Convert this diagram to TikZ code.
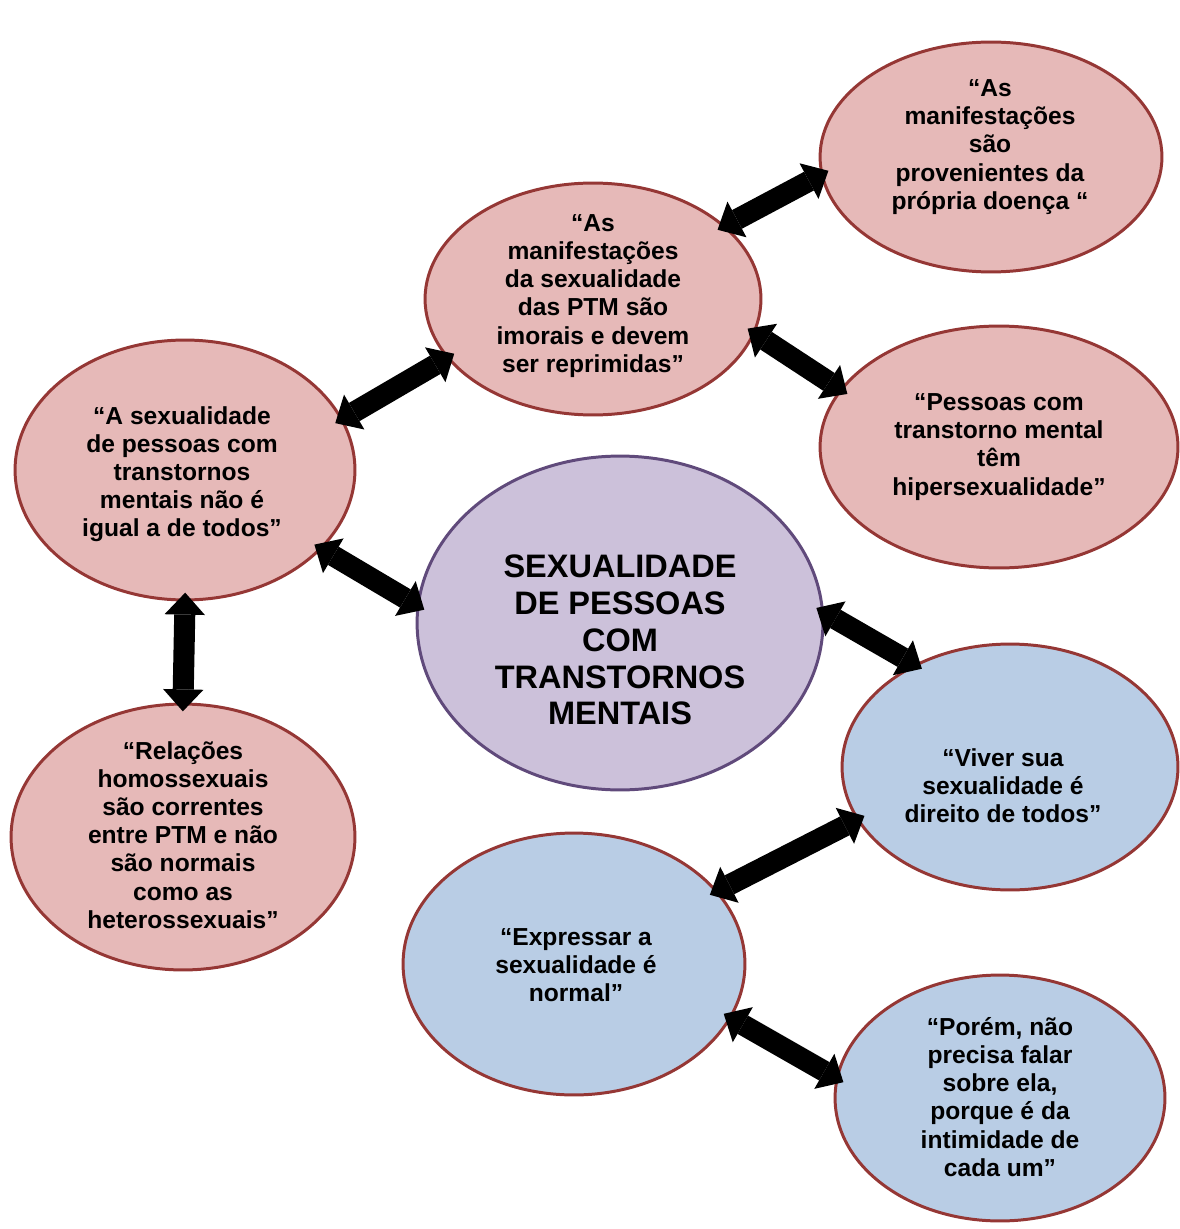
\documentclass[tikz,border=0pt]{standalone}
\usepackage{fontspec}
\setmainfont{Liberation Sans}
\usetikzlibrary{arrows.meta,shapes.geometric}
\definecolor{pinkfill}{HTML}{E6B9B8}
\definecolor{redline}{HTML}{953735}
\definecolor{bluefill}{HTML}{B9CDE5}
\definecolor{lavfill}{HTML}{CCC1DA}
\definecolor{purpline}{HTML}{604A7B}
\begin{document}
\begin{tikzpicture}[x=0.02cm,y=-0.02cm,
  sz/.style 2 args={minimum width=#1*0.04cm, minimum height=#2*0.04cm},
  oval/.style={ellipse, draw=redline, line width=1.7pt, inner sep=0pt},
  pinkoval/.style={oval, fill=pinkfill},
  blueoval/.style={oval, fill=bluefill},
  centeroval/.style={oval, draw=purpline, fill=lavfill},
  txt/.style={align=center, inner sep=0pt, font=\bfseries\fontsize{14}{16}\selectfont},
  bigtxt/.style={align=center, inner sep=0pt, font=\bfseries\fontsize{18.5}{21}\selectfont},
  dblarrow/.style={line width=12pt,
    {Triangle[width=23pt,length=12.5pt,line width=0pt]}-{Triangle[width=23pt,length=12.5pt,line width=0pt]},
    shorten <=-5pt, shorten >=-5pt}
]
\useasboundingbox (0,0) rectangle (1179,1229);

% ellipses
\node[pinkoval, sz={171}{115}] (tr) at (991,157) {};
\node[pinkoval, sz={168}{116}] (tm) at (593,299) {};
\node[pinkoval, sz={179}{121}] (rt) at (999,447) {};
\node[pinkoval, sz={170}{130}] (lf) at (185,470) {};
\node[centeroval, sz={203}{167}] (ce) at (620,623) {};
\node[pinkoval, sz={172}{133}] (bl) at (183,837) {};
\node[blueoval, sz={168}{123}] (rb) at (1010,767) {};
\node[blueoval, sz={171}{131}] (ex) at (574,964) {};
\node[blueoval, sz={165}{123}] (pr) at (1000,1098) {};

% connectors
\draw[dblarrow] (tm.29) -- (tr.186);
\draw[dblarrow] (tm.-12) -- (rt.160);
\draw[dblarrow] (lf.18) -- (tm.202);
\draw[dblarrow] (lf.-30) -- (ce.175);
\draw[dblarrow] (lf.-90) -- (bl.90);
\draw[dblarrow] (ce.3) -- (rb.133);
\draw[dblarrow] (rb.199) -- (ex.27);
\draw[dblarrow] (ex.-19) -- (pr.173);

% texts
\node[txt] (trt) at (990,147) {“As\\manifestações\\são\\provenientes da\\própria doença “};
\node[txt] (tmt) at (593,296) {“As\\manifestações\\da sexualidade\\das PTM são\\imorais e devem\\ser reprimidas”};
\node[txt] (rtt) at (999,447) {“Pessoas com\\transtorno mental\\têm\\hipersexualidade”};
\node[txt] (lft) at (182,474) {“A sexualidade\\de pessoas com\\transtornos\\mentais não é\\igual a de todos”};
\node[bigtxt] (cet) at (620,640) {SEXUALIDADE\\DE PESSOAS\\COM\\TRANSTORNOS\\MENTAIS};
\node[txt] (blt) at (183,835) {“Relações\\homossexuais\\são correntes\\entre PTM e não\\são normais\\como as\\heterossexuais”};
\node[txt] (rbt) at (1003,786) {“Viver sua\\sexualidade é\\direito de todos”};
\node[txt] (ext) at (576,965) {“Expressar a\\sexualidade é\\normal”};
\node[txt] (prt) at (1000,1097) {“Porém, não\\precisa falar\\sobre ela,\\porque é da\\intimidade de\\cada um”};
\end{tikzpicture}
\end{document}
